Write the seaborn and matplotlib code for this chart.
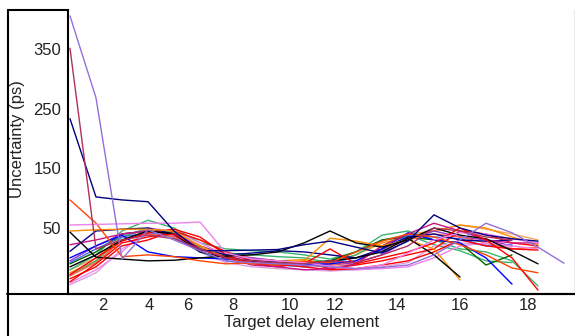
import seaborn as sns
import matplotlib.pyplot as plt
import pandas as pd
from matplotlib.lines import Line2D

# uncertainty per target delay element, one list per run (x = 1, 2, 3, ...)
run_purple = [405, 268, -2, 47, 30, 12, -5, -8, -10, -12, -15, -18, -16, -12, 5, 30, 58, 42, 18, -9]
run_crimson = [351, 15, 30, 38, 32, 15, 0, -5, -8, -10, -5, -8, 5, 20, 50, 45, 35, 30]
run_navy = [233, 102, 97, 94, 45, 12, 12, 13, 14, 22, 28, 18, 8, 28, 72, 50, 38, 32, 28]
run_orangered = [97, 58, 2, 5, 2, -5, -10, -8, -12, -6, -8, 10, 28, 40, 35, 22, 5, -17, -25]
run_violet = [55, 56, 57, 58, 58, 60, 8, -2, -5, -8, -14, -18, -12, 8, 30, 42, 40, 32, 25]
run_black_a = [43, 1, -2, -5, -4, 0, 3, 5, 10, 25, 45, 25, 18, 30, 50, 38, 32, 12, -10]
run_black_b = [-15, 5, 30, 45, 40, 10, 0, -5, -8, -10, -5, 0, 10, 33, 5, -32]
run_orange_a = [45, 47, 48, 48, 45, 20, 0, -10, -8, -5, 33, 28, 20, 30, 15, -37]
run_orange_b = [-25, -5, 40, 45, 42, 20, 5, -2, -5, -3, -10, 5, 25, 35, 45, 55, 50, 35, 22]
run_green_a = [-20, 5, 45, 63, 50, 25, 15, 12, 10, 5, -2, 10, 38, 45, 30, 15, 10, -5, -47]
run_green_b = [-30, -5, 35, 50, 42, 18, 8, 5, 2, 0, -8, 5, 30, 38, 22, 12, -5, -8]
run_darkgreen = [-10, 10, 40, 45, 40, 15, 2, -2, -5, -8, -5, 10, 30, 35, 30, 25, -12, 5]
run_blue = [0, 20, 38, 10, 2, 0, -2, -5, -8, -12, -10, -5, 15, 42, 30, 25, 0, -44]
run_red_a = [-40, -10, 25, 35, 40, 15, 0, -8, -12, -10, 15, -10, 0, 10, 25, 50, 30, 0, -54]
run_red_b = [-35, -15, 20, 30, 45, 30, 10, -5, -10, -15, -20, -18, -12, -5, 10, 30, 20, 15, 13]
run_red_c = [-28, 0, 28, 42, 48, 35, 5, -10, -15, -8, -18, -12, -5, 5, 15, 45, 40, 25, 20]
run_magenta = [22, 30, 40, 45, 38, 15, 0, -12, -15, -20, -18, -10, 20, 40, 58, 45, 30, 25, 25]
run_pink = [-42, -20, 10, 50, 45, 25, 5, -5, -8, -12, -15, -20, -18, -15, 0, 20, 25, 20, 15]
run_darkblue = [11, 45, 48, 50, 40, 15, 5, 8, 12, 10, 5, 0, 15, 35, 40, 30, 28, 30]
run_royal = [-8, 15, 35, 42, 35, 10, -5, -10, -12, -15, -8, 0, 12, 38, 35, 32, 20, 22]
run_tomato = [-30, -8, 30, 40, 35, 20, 0, -3, -5, -10, -12, -5, 15, 30, 40, 35, 25, 15, 18]
run_sandy = [-20, 0, 35, 48, 42, 30, 10, 0, -5, -12, -15, -10, 20, 40, 45, 55, 48, 40, 30]
run_plum = [-45, -25, 15, 40, 35, 10, -8, -15, -18, -20, -22, -20, -15, -8, 20, 25, 22, 18]
run_orchid = [-5, 20, 40, 45, 40, 20, 5, 0, -5, -8, -12, -8, 5, 30, 45, 35, 30, 20]

runs = {
    "sandy": (run_sandy, "sandybrown"),
    "orange_b": (run_orange_b, "darkorange"),
    "green_b": (run_green_b, "mediumseagreen"),
    "green_a": (run_green_a, "mediumseagreen"),
    "darkgreen": (run_darkgreen, "darkgreen"),
    "plum": (run_plum, "plum"),
    "orchid": (run_orchid, "darkorchid"),
    "royal": (run_royal, "royalblue"),
    "tomato": (run_tomato, "tomato"),
    "pink": (run_pink, "violet"),
    "red_c": (run_red_c, "red"),
    "red_b": (run_red_b, "red"),
    "darkblue": (run_darkblue, "darkblue"),
    "blue": (run_blue, "blue"),
    "magenta": (run_magenta, "mediumvioletred"),
    "orange_a": (run_orange_a, "darkorange"),
    "black_b": (run_black_b, "black"),
    "black_a": (run_black_a, "black"),
    "red_a": (run_red_a, "red"),
    "orangered": (run_orangered, "orangered"),
    "violet": (run_violet, "violet"),
    "navy": (run_navy, "navy"),
    "crimson": (run_crimson, "#b0305f"),
    "purple": (run_purple, "mediumpurple"),
}

xtick_pos = [2.27, 4.04, 5.54, 7.27, 9.46, 11.19, 13.58, 16.0, 18.62]
xtick_labels = ["2", "4", "6", "8", "10", "12", "14", "16", "18"]
ytick_vals = [50, 150, 250, 350]

rows = []
for name, (vals, col) in runs.items():
    for i, v in enumerate(vals):
        rows.append({"run": name, "element": i + 1, "uncertainty": v})
df = pd.DataFrame(rows)
palette = {name: col for name, (vals, col) in runs.items()}

sns.set_style("white")
plt.rcParams["font.family"] = ["Liberation Sans", "DejaVu Sans"]

fig = plt.figure(figsize=(5.75, 3.36), dpi=100)
ax = fig.add_axes([67.5 / 575, 42 / 336, 506.5 / 575, 284 / 336])

sns.lineplot(data=df, x="element", y="uncertainty", hue="run", palette=palette,
             hue_order=list(runs.keys()), estimator=None, linewidth=1.0,
             legend=False, ax=ax)

ax.set_xlim(0.904, 20.385)
ax.set_ylim(-60.5, 415)
ax.set_xticks(xtick_pos)
ax.set_xticklabels(xtick_labels)
ax.set_yticks(ytick_vals)
ax.tick_params(axis="both", length=0, labelsize=12, colors="#222222")
ax.tick_params(axis="y", pad=4.5)
ax.tick_params(axis="x", pad=3)
ax.set_xlabel("")
ax.set_ylabel("")

for side in ["left", "bottom"]:
    ax.spines[side].set_color("black")
    ax.spines[side].set_linewidth(1.5)
ax.spines["top"].set_visible(False)
ax.spines["right"].set_color("#ececec")
ax.spines["right"].set_linewidth(1)

# outer frame pieces around the label area
fig.add_artist(Line2D([8 / 575, 8 / 575], [1 - 10 / 336, 0], color="black", lw=1.5))
fig.add_artist(Line2D([8 / 575, 67.5 / 575], [1 - 10 / 336, 1 - 10 / 336], color="black", lw=1.5))
fig.add_artist(Line2D([7 / 575, 1], [42 / 336, 42 / 336], color="black", lw=1.5))

fig.text(302 / 575, 1 - 323 / 336, "Target delay element", ha="center", va="center",
         fontsize=12, color="#222222")
fig.text(18 / 575, 1 - 139 / 336, "Uncertainty (ps)", ha="center", va="center",
         rotation=90, fontsize=12, color="#222222")

fig.savefig("out.png", dpi=100)
